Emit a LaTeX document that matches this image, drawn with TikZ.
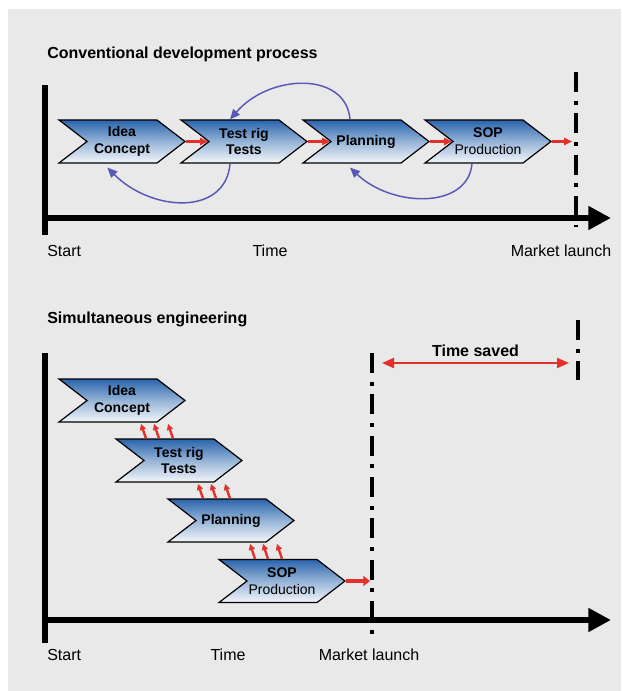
\documentclass[tikz,border=0pt]{standalone}
\usepackage{fontspec}
\setmainfont{Liberation Sans}
\usetikzlibrary{arrows.meta, positioning, calc, shapes.symbols}
\definecolor{panel}{RGB}{233,233,233}
\definecolor{chevtop}{RGB}{42,100,172}
\definecolor{chevmid}{RGB}{150,180,215}
\definecolor{chevbot}{RGB}{244,246,250}
\definecolor{flowred}{RGB}{226,48,42}
\definecolor{loopblue}{RGB}{88,88,184}

\begin{document}
\begin{tikzpicture}[x=0.75pt, y=-0.75pt,
  stage/.style={signal, signal from=west, signal to=east, signal pointer angle=75,
                draw=black, line width=0.9pt, top color=chevtop, bottom color=chevbot,
                middle color=chevmid,
                minimum width=94.5pt, minimum height=32.25pt, inner sep=1pt,
                font=\fontsize{10.5}{12.6}\selectfont\bfseries, align=center},
  flow/.style={-{Triangle[length=6pt, width=5.5pt]}, line width=2.2pt, flowred},
  push/.style={-{Triangle[length=4.5pt, width=4.5pt]}, line width=1.8pt, flowred},
  bigflow/.style={-{Triangle[length=5pt, width=7.5pt]}, line width=3.6pt, flowred},
  saved/.style={{Triangle[length=9pt, width=7.5pt]}-{Triangle[length=9pt, width=7.5pt]}, line width=1.5pt, flowred},
  loop/.style={-{Triangle[length=7.5pt, width=6.5pt]}, line width=1.1pt, loopblue},
  axis/.style={line width=4.2pt, black},
  timeaxis/.style={axis, -{Triangle[length=17pt, width=17pt]}},
  launch/.style={line width=3pt, dash pattern=on 15pt off 6.5pt on 3pt off 6.5pt},
  lbl/.style={font=\fontsize{12}{14}\selectfont, inner sep=0pt, text=black},
  ttl/.style={font=\fontsize{12}{14}\selectfont\bfseries, inner sep=0pt, text=black}
]
\useasboundingbox (0,0) rectangle (621,691);
\fill[white] (0,0) rectangle (621,691);
\fill[panel] (8,9) rectangle (621,691);

% conventional process
\node[ttl, anchor=base west] (t1) at (47,59) {Conventional development process};

\draw[axis] (45,85) -- (45,235);
\draw[timeaxis] (43,218) -- (611,218);

\coordinate (lt1) at (576,72);
\coordinate (lt2) at (576,227);
\draw[launch] (lt1) -- (lt2);

\node[stage] (c1) at (122,141.5) {Idea\\Concept};
\node[stage] (c2) at (244,141.5) {Test rig\\Tests};
\node[stage] (c3) at (366,141.5) {Planning};
\node[stage] (c4) at (488,141.5) {SOP\\{\mdseries Production}};

\foreach \a/\b in {c1/c2, c2/c3, c3/c4}
  \draw[flow] (\a.east) -- (\b.west);
\draw[flow, shorten >=3pt] (c4.east) -- (c4.east -| lt1);

\draw[loop] ([xshift=-12pt]c3.north) .. controls +(-4,-48) and +(40,-46) .. ([xshift=-10.5pt]c2.north);
\draw[loop] ([xshift=-10.5pt]c2.south) .. controls +(-4,52) and +(45,45) .. ([xshift=-11pt, yshift=-3pt]c1.south);
\draw[loop] ([xshift=-12pt]c4.south) .. controls +(-4,46) and +(42,40) .. ([xshift=-12pt, yshift=-3pt]c3.south);

\node[lbl, anchor=base west] (st1) at (47,257) {Start};
\node[lbl, anchor=base] (tm1) at (270,257) {Time};
\node[lbl, anchor=base] (mk1) at (561,257) {Market launch};

% simultaneous engineering
\node[ttl, anchor=base west] (t2) at (47,323) {Simultaneous engineering};

\draw[axis] (45,353) -- (45,643);
\draw[timeaxis] (43,620) -- (611,620);

\coordinate (lb1) at (372,353);
\coordinate (lb2) at (372,635);
\coordinate (ls1) at (578,320);
\coordinate (ls2) at (578,380);
\draw[launch] (lb1) -- (lb2);
\draw[launch] (ls1) -- (ls2);

\coordinate (ts1) at (382,363);
\coordinate (ts2) at (569,363);
\draw[saved] (ts1) -- node[ttl, above=4pt] (tsl) {Time saved} (ts2);

\node[stage] (s1) at (122,400.5) {Idea\\Concept};
\node[stage] (s2) at (179,460.5) {Test rig\\Tests};
\node[stage] (s3) at (231,520.5) {Planning};
\node[stage] (s4) at (282,581) {SOP\\{\mdseries Production}};

\foreach \u/\l in {s1/s2, s2/s3, s3/s4}
  \foreach \dx in {19,32,46}
    \draw[push] let \p1=(\u.south), \p2=(\l.north) in
      (\x1+\dx*0.75pt+3.75pt,\y2) -- (\x1+\dx*0.75pt,\y1-1pt);
\draw[bigflow, shorten >=1.5pt] (s4.east) -- (s4.east -| lb1);

\node[lbl, anchor=base west] (st2) at (47,660) {Start};
\node[lbl, anchor=base] (tm2) at (228,660) {Time};
\node[lbl, anchor=base] (mk2) at (369,660) {Market launch};
\end{tikzpicture}
\end{document}
